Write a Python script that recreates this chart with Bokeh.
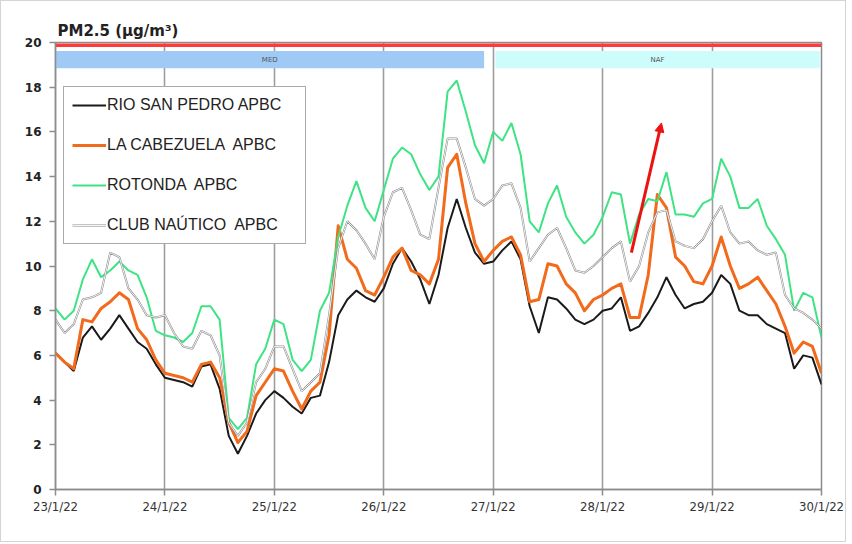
from bokeh.plotting import figure
from bokeh.models import (ColumnDataSource, FixedTicker, Legend, LegendItem,
                          Arrow, NormalHead, Range1d)
from bokeh.embed import file_html
from bokeh.resources import INLINE
from bokeh.core.properties import value

# ---------------- data ----------------
STEP_H = 2  # hours between samples
day_labels = ["23/1/22", "24/1/22", "25/1/22", "26/1/22", "27/1/22",
              "28/1/22", "29/1/22", "30/1/22"]
y_ticks = [0, 2, 4, 6, 8, 10, 12, 14, 16, 18, 20]

rio = [6.1, 5.7, 5.3, 6.8, 7.3, 6.7, 7.2, 7.8, 7.2, 6.6, 6.3, 5.6, 5.0, 4.9, 4.8,
       4.6, 5.5, 5.6, 4.5, 2.4, 1.6, 2.4, 3.4, 4.0, 4.4, 4.1, 3.7, 3.4, 4.1, 4.2,
       5.7, 7.8, 8.5, 8.9, 8.6, 8.4, 9.0, 10.1, 10.8, 10.2, 9.4, 8.3, 9.6, 11.7,
       13.0, 11.7, 10.6, 10.1, 10.2, 10.7, 11.1, 10.3, 8.2, 7.0, 8.6, 8.5, 8.1,
       7.6, 7.4, 7.6, 8.0, 8.1, 8.6, 7.1, 7.3, 7.9, 8.6, 9.5, 8.7, 8.1, 8.3, 8.4,
       8.8, 9.6, 9.2, 8.0, 7.8, 7.8, 7.4, 7.2, 7.0, 5.4, 6.0, 5.9, 4.7]
cabezuela = [6.1, 5.7, 5.4, 7.6, 7.5, 8.1, 8.4, 8.8, 8.5, 7.2, 6.7, 5.8, 5.2, 5.1,
             5.0, 4.8, 5.6, 5.7, 5.0, 3.0, 2.1, 2.6, 4.2, 4.8, 5.4, 5.3, 4.4, 3.6,
             4.4, 4.8, 6.9, 11.8, 10.3, 9.9, 8.9, 8.7, 9.5, 10.4, 10.8, 9.8, 9.6,
             9.2, 10.3, 14.4, 15.0, 12.8, 11.0, 10.2, 10.7, 11.1, 11.3, 10.5, 8.4,
             8.5, 10.1, 10.0, 9.2, 8.8, 8.0, 8.5, 8.7, 9.0, 9.2, 7.7, 7.7, 9.6,
             13.2, 12.6, 10.4, 10.0, 9.3, 9.2, 10.0, 11.3, 10.0, 9.0, 9.2, 9.5,
             8.9, 8.3, 7.3, 6.1, 6.6, 6.4, 5.2]
rotonda = [8.1, 7.6, 8.0, 9.4, 10.3, 9.5, 9.8, 10.2, 9.8, 9.6, 8.6, 7.1, 6.9, 6.8,
           6.6, 7.0, 8.2, 8.2, 7.6, 3.2, 2.7, 3.2, 5.6, 6.3, 7.6, 7.4, 5.8, 5.3,
           5.8, 8.0, 8.8, 11.3, 12.7, 13.8, 12.6, 12.0, 13.4, 14.8, 15.3, 15.0,
           14.1, 13.4, 14.0, 17.8, 18.3, 16.9, 15.4, 14.6, 16.0, 15.6, 16.4, 15.0,
           12.0, 11.5, 12.8, 13.6, 12.2, 11.5, 11.0, 11.4, 12.2, 13.3, 13.2, 11.0,
           12.3, 13.0, 12.9, 14.2, 12.3, 12.3, 12.2, 12.8, 13.0, 14.8, 14.0, 12.6,
           12.6, 13.0, 11.8, 11.2, 10.5, 8.0, 8.8, 8.6, 6.8]
club = [7.6, 7.0, 7.4, 8.5, 8.6, 8.8, 10.6, 10.4, 9.0, 8.5, 7.8, 7.7, 7.8, 7.0, 6.4,
        6.3, 7.1, 6.9, 6.0, 3.0, 2.4, 3.0, 4.8, 5.4, 6.4, 6.4, 5.4, 4.4, 4.8, 5.2,
        7.8, 10.8, 12.0, 11.6, 11.0, 10.3, 12.2, 13.3, 13.5, 12.5, 11.4, 11.2,
        13.5, 15.7, 15.7, 14.4, 13.0, 12.7, 13.0, 13.6, 13.7, 12.6, 10.2, 10.8,
        11.4, 11.7, 10.8, 9.8, 9.7, 10.0, 10.4, 10.8, 11.1, 9.3, 10.0, 11.5, 12.4,
        12.5, 11.1, 10.9, 10.8, 11.2, 12.0, 12.7, 11.5, 11.0, 11.1, 10.7, 10.5,
        10.6, 8.7, 8.1, 7.9, 7.6, 7.2]

series_names = ["RIO SAN PEDRO APBC", "LA CABEZUELA  APBC", "ROTONDA  APBC",
                "CLUB NAÚTICO  APBC"]

episode_names = ["MED", "NAF"]
episode_start_h = [0.0, 96.5]
episode_end_h = [94.0, 167.6]
episode_colors = ["#9fcaf5", "#cdfcfc"]
episode_bottom = 18.85
episode_top = 19.62
red_band_y = 19.88

arrow_start = (126.3, 10.6)
arrow_end = (132.9, 16.4)

hours = [i * STEP_H for i in range(len(rio))]
day_ticks = [24 * i for i in range(len(day_labels))]

src = ColumnDataSource(dict(h=hours, rio=rio, cab=cabezuela, rot=rotonda, club=club))

# ---------------- figure ----------------
p = figure(width=846, height=542, output_backend="svg", toolbar_location=None,
           x_range=Range1d(0, day_ticks[-1]), y_range=Range1d(0, 20),
           min_border_left=54, min_border_right=26, min_border_top=41,
           min_border_bottom=54)
p.styles = {"border": "1px solid #d4d4d4"}
p.background_fill_color = "white"
p.border_fill_color = "white"
p.outline_line_color = "#8c8c8c"
p.outline_line_width = 1.5

# title
p.title.text = "PM2.5 (µg/m³)"
p.title.text_font = "DejaVu Sans"
p.title.text_font_style = "bold"
p.title.text_font_size = "15px"
p.title.text_color = "#222222"
p.title.align = "left"
p.title.offset = 2
p.title.standoff = 5

# axes
p.xaxis.ticker = FixedTicker(ticks=day_ticks)
p.xaxis.major_label_overrides = {t: l for t, l in zip(day_ticks, day_labels)}
p.xaxis.major_label_text_font = "Liberation Sans Narrow, DejaVu Sans Condensed, sans-serif"
p.xaxis.major_label_text_font_size = "13px"
p.xaxis.major_label_text_color = "#333333"
p.xaxis.major_label_standoff = 3
p.yaxis.ticker = FixedTicker(ticks=y_ticks)
p.yaxis.major_label_text_font = "DejaVu Sans"
p.yaxis.major_label_text_font_style = "bold"
p.yaxis.major_label_text_font_size = "12px"
p.yaxis.major_label_text_color = "#222222"
p.yaxis.major_label_standoff = 8
for ax in (p.xaxis, p.yaxis):
    ax.axis_line_color = "#8c8c8c"
    ax.axis_line_width = 1.5
    ax.major_tick_line_color = "#8c8c8c"
    ax.major_tick_line_width = 1.5
    ax.major_tick_out = 6
    ax.major_tick_in = 0
    ax.minor_tick_line_color = None

p.xgrid.ticker = FixedTicker(ticks=day_ticks)
p.xgrid.grid_line_color = "#9e9e9e"
p.xgrid.grid_line_width = 1.6
p.ygrid.grid_line_color = None

# episode bands
p.line(x=[0, day_ticks[-1]], y=[red_band_y, red_band_y], line_color="#ff3a3a",
       line_width=3.5)
ep_src = ColumnDataSource(dict(l=episode_start_h, r=episode_end_h,
                               b=[episode_bottom] * 2, t=[episode_top] * 2,
                               c=episode_colors, n=episode_names,
                               xm=[(a + b) / 2 for a, b in zip(episode_start_h, episode_end_h)],
                               ym=[(episode_bottom + episode_top) / 2] * 2))
p.quad(left="l", right="r", bottom="b", top="t", fill_color="c", line_color=None,
       source=ep_src)
p.text(x="xm", y="ym", text="n", source=ep_src, text_font=value("DejaVu Sans"),
       text_font_size="7px", text_color="#555555", text_align="center",
       text_baseline="middle")

# series
r_rio = p.line("h", "rio", source=src, line_color="#1a1a1a", line_width=2)
r_cab = p.line("h", "cab", source=src, line_color="#f26a1b", line_width=3,
               line_join="round")
r_rot = p.line("h", "rot", source=src, line_color="#3ee383", line_width=2)
r_club_o = p.line("h", "club", source=src, line_color="#8a8a8a", line_width=2)
r_club_i = p.line("h", "club", source=src, line_color="#ffffff", line_width=0.9)

# arrow
p.add_layout(Arrow(end=NormalHead(size=9, fill_color="#ee1111", line_color="#ee1111"),
                   x_start=arrow_start[0], y_start=arrow_start[1],
                   x_end=arrow_end[0], y_end=arrow_end[1],
                   line_color="#ee1111", line_width=3))

# legend
legend = Legend(items=[LegendItem(label=series_names[0], renderers=[r_rio]),
                       LegendItem(label=series_names[1], renderers=[r_cab]),
                       LegendItem(label=series_names[2], renderers=[r_rot]),
                       LegendItem(label=series_names[3], renderers=[r_club_o, r_club_i])],
                location=(8, 245), orientation="vertical")
legend.label_text_font = "Liberation Sans"
legend.label_text_font_size = "16px"
legend.label_text_color = "#222222"
legend.label_standoff = 1
legend.label_width = 190
legend.glyph_width = 34
legend.glyph_height = 20
legend.label_height = 20
legend.spacing = 20
legend.padding = 8
legend.margin = 0
legend.border_line_color = "#555555"
legend.border_line_width = 1.6
legend.background_fill_color = "white"
legend.background_fill_alpha = 1
p.add_layout(legend, "center")

open("out.html", "w").write(file_html(p, INLINE))
